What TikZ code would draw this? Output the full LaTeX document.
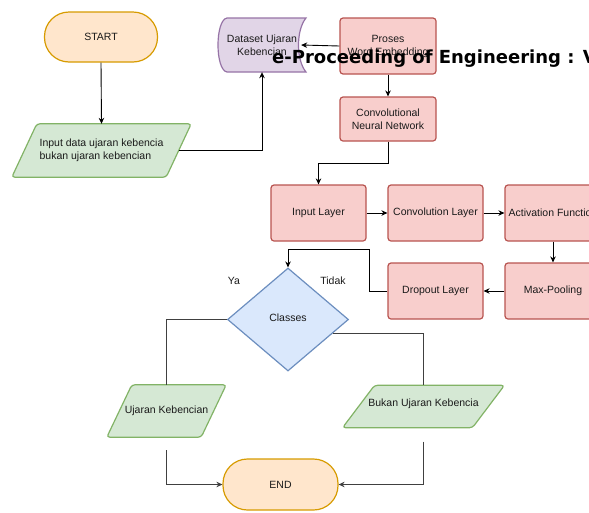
\documentclass[tikz,border=0pt]{standalone}
\usepackage{fontspec}
\setmainfont{Liberation Sans}
\newfontfamily\wmfont{DejaVu Sans}
\usetikzlibrary{shapes.geometric,arrows.meta,calc,backgrounds}
\definecolor{orF}{HTML}{FFE6CC}\definecolor{orD}{HTML}{D79B00}
\definecolor{grF}{HTML}{D5E8D4}\definecolor{grD}{HTML}{82B366}
\definecolor{puF}{HTML}{E1D5E7}\definecolor{puD}{HTML}{9673A6}
\definecolor{reF}{HTML}{F8CECC}\definecolor{reD}{HTML}{B85450}
\definecolor{blF}{HTML}{DAE8FC}\definecolor{blD}{HTML}{6C8EBF}
\definecolor{txt}{HTML}{1A1A1A}
\newcommand\paradraw[2]{%
  \begin{pgfonlayer}{background}
  \draw[para] ([xshift=#2]#1.north west) -- ([xshift=#2]#1.north east) --
    ([xshift=-#2]#1.south east) -- ([xshift=-#2]#1.south west) -- cycle;
  \end{pgfonlayer}}
\begin{document}
\begin{tikzpicture}[x=1pt,y=-1pt,
  font=\fontsize{10.5}{13}\selectfont, text=txt,
  box/.style={draw=reD, fill=reF, line width=1.2pt, rounded corners=3pt,
    minimum width=95pt, minimum height=56pt, align=center, inner sep=1pt},
  term/.style={draw=orD, fill=orF, line width=1.2pt, rounded corners=24.5pt,
    minimum width=113pt, minimum height=50pt, inner sep=1pt},
  para/.style={draw=grD, fill=grF, line width=1.2pt, rounded corners=3pt},
  ptext/.style={draw=none, fill=none, inner sep=0pt, align=left},
  arr/.style={-{Stealth[length=6pt,width=5.5pt]}, line width=0.9pt, draw=black},
  thinline/.style={line width=0.8pt, draw=black!75},
  lbl/.style={inner sep=1pt}]
\useasboundingbox (0,0) rectangle (589,512);
\clip (0,0) rectangle (589,512);

% terminals
\node[term] (start) at (101,37) {START};
\node[term, minimum width=115pt, minimum height=51pt] (end) at (280.5,484.5) {END};

% input parallelogram
\node[ptext, minimum width=154pt, minimum height=53pt] (inp) at (101.5,150.5)
  {Input data ujaran kebencia\\bukan ujaran kebencian};
\paradraw{inp}{12.5pt}

% dataset (stored data shape)
\draw[draw=puD, fill=puF, line width=1.2pt]
  (227,18) -- (306,18) .. controls (296,30) and (296,60) .. (306,72)
  -- (227,72) .. controls (215,70) and (215,20) .. (227,18) -- cycle;
\node[draw=none, minimum width=86pt, minimum height=54pt, align=center, inner sep=0pt]
  (data) at (262,45) {Dataset Ujaran\\Kebencian};

% red boxes
\node[box, minimum width=96pt] (prose) at (388,46) {Proses\\Word Embedding};
\node[box, minimum width=96pt, minimum height=44pt] (cnn) at (388,119) {Convolutional\\Neural Network};
\node[box] (inl) at (318.5,213) {Input Layer};
\node[box] (conv) at (435.5,213) {Convolution Layer};
\node[box, minimum width=96pt] (act) at (553,213) {Activation Function};
\node[box, minimum width=96pt] (maxp) at (553,291) {Max-Pooling};
\node[box] (drop) at (435.5,291) {Dropout Layer};

% decision
\node[diamond, draw=blD, fill=blF, line width=1.2pt, minimum width=121pt,
  minimum height=103pt, inner sep=0pt, aspect=1.17] (cls) at (288,319.5) {};
\node[inner sep=0pt] (clst) at (288,318) {Classes};
\node[lbl] (ya) at (234,281) {Ya};
\node[lbl] (tidak) at (333,281) {Tidak};

% outputs
\node[ptext, minimum width=94pt, minimum height=52pt] (uk) at (166.5,411) {Ujaran Kebencian};
\paradraw{uk}{12.5pt}
\node[ptext, minimum width=129.5pt, minimum height=42pt] (bk) at (423.5,406.5) {};
\node[inner sep=0pt] (bkt) at (423.5,404) {Bukan Ujaran Kebencia};
\paradraw{bk}{16pt}

% connectors
\draw[arr] (start.south) -- (inp.north);
\draw[arr] (inp.east) -| (data.south);
\draw[arr] (prose.west) -- ([xshift=-4pt]data.east);
\draw[arr] (prose.south) -- (cnn.north);
\coordinate (c1) at ($(cnn.south)+(0,22)$);
\draw[arr] (cnn.south) -- (c1) -| (inl.north);
\draw[arr] (inl.east) -- (conv.west);
\draw[arr] (conv.east) -- (act.west);
\draw[arr] (act.south) -- (maxp.north);
\draw[arr] (maxp.west) -- (drop.west -| drop.east);
\coordinate (d1) at ($(drop.west)+(-18,0)$);
\coordinate (d2) at ($(cls.north)+(0,-18)$);
\draw[arr] (drop.west) -- (d1) |- (d2) -- (cls.north);
\draw[thinline] (cls.west) -| (uk.north);
\coordinate (cr) at ($(cls.east)!0.27!(cls.south)$);
\draw[thinline] (cr) -| (bk.north);
\coordinate (u1) at ($(uk.south)+(0,13)$);
\coordinate (b1) at ($(bk.south)+(0,14)$);
\draw[arr, line width=0.8pt, draw=black!75] (u1) |- (end.west);
\draw[arr, line width=0.8pt, draw=black!75] (b1) |- (end.east);

% overlay header text
\node[anchor=base west, inner sep=0pt, text=black,
  font=\wmfont\bfseries\fontsize{18}{20}\selectfont] (wm) at (272,63)
  {e-Proceeding of Engineering : V};
\end{tikzpicture}
\end{document}
